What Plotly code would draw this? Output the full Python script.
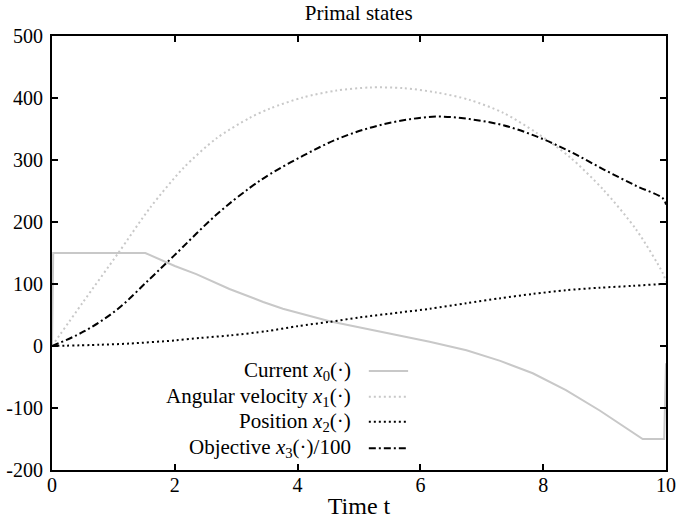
import plotly.graph_objects as go

# ---- data ----
t_current = [0, 0.02, 1.52, 1.75, 2.0, 2.35, 2.68, 2.89, 3.44, 3.76, 4.52, 5.01, 5.66, 6.15, 6.75, 7.3, 7.83, 8.37, 8.92, 9.46, 9.62, 9.97, 10.0]
current = [0, 150, 150, 140, 129, 116, 101, 92, 71, 60, 40, 30, 17, 7, -7, -24, -44, -71, -104, -139, -150, -150, -28]

t_vel = [0, 0.5, 1.08, 1.59, 2.14, 2.68, 3.22, 3.55, 4.09, 4.63, 5.18, 5.72, 6.26, 6.80, 7.35, 7.89, 8.43, 8.98, 9.52, 9.95, 10.0]
velocity = [0, 70, 150, 222, 287, 335, 368, 383, 401, 412, 417, 416, 409, 397, 376, 344, 305, 252, 187, 117, 103]

t_pos = [0, 0.78, 1.27, 2.0, 2.41, 2.9, 3.5, 4.0, 4.52, 5.0, 5.66, 6.15, 6.75, 7.3, 7.83, 8.37, 8.92, 9.46, 9.95, 10.0]
position = [0, 2, 4, 9, 13, 17, 24, 32, 39, 46, 54, 60, 69, 77, 84, 90, 94, 97, 100, 100]

t_obj = [0, 0.51, 1.05, 1.59, 1.98, 2.68, 3.22, 3.55, 4.09, 4.63, 5.18, 5.72, 6.26, 6.80, 7.35, 7.89, 8.43, 8.98, 9.52, 9.95, 10.0]
objective = [0, 23, 58, 108, 145, 212, 255, 277, 307, 333, 352, 364, 370, 366, 356, 338, 314, 285, 258, 238, 228]

y_ticks = [-200, -100, 0, 100, 200, 300, 400, 500]
y_ticktext = ["-200", "-100", "0", "100", "200", "300", "400", "500"]
x_ticks = [0, 2, 4, 6, 8, 10]

legend_labels = [
    "Current <i>x</i><sub>0</sub>(·)",
    "Angular velocity <i>x</i><sub>1</sub>(·)",
    "Position <i>x</i><sub>2</sub>(·)",
    "Objective <i>x</i><sub>3</sub>(·)/100",
]

GRAY = "rgb(200,200,200)"
DOT = "2px,3px"
DASHDOT = "7px,3px,2px,3px"
styles = [
    dict(color=GRAY, width=2, dash="solid"),
    dict(color=GRAY, width=2, dash=DOT),
    dict(color="black", width=2, dash=DOT),
    dict(color="black", width=2, dash=DASHDOT),
]

FONT = "Liberation Serif"

fig = go.Figure()
fig.add_trace(go.Scatter(x=t_current, y=current, mode="lines", line=styles[0], showlegend=False))
fig.add_trace(go.Scatter(x=t_vel, y=velocity, mode="lines", line=dict(**styles[1], shape="spline", smoothing=0.8), showlegend=False))
fig.add_trace(go.Scatter(x=t_pos, y=position, mode="lines", line=dict(**styles[2], shape="spline", smoothing=0.8), showlegend=False))
fig.add_trace(go.Scatter(x=t_obj, y=objective, mode="lines", line=dict(**styles[3], shape="spline", smoothing=1.0), showlegend=False))

# manual legend (text right-aligned, sample line on the right)
row_y = [0.228, 0.169, 0.111, 0.050]
for lbl, yy, st in zip(legend_labels, row_y, styles):
    fig.add_annotation(x=0.490, y=yy, xref="paper", yref="paper", text=lbl,
                       showarrow=False, xanchor="right", yanchor="middle",
                       font=dict(family=FONT, size=21, color="black"))
    fig.add_shape(type="line", xref="paper", yref="paper", x0=0.516, x1=0.580, y0=yy, y1=yy,
                  line=dict(color=st["color"], width=st["width"], dash=st["dash"]))

axis_common = dict(showgrid=False, zeroline=False, showline=True, linecolor="black", linewidth=2,
                   mirror="ticks", ticks="inside", ticklen=6, tickwidth=1.5, tickcolor="black",
                   automargin=False,
                   tickfont=dict(family=FONT, size=20, color="black"))

fig.update_xaxes(range=[0, 10], tickvals=x_ticks, ticklabelstandoff=-4,
                 title=dict(text="Time t", font=dict(family=FONT, size=24, color="black"), standoff=2),
                 **axis_common)
fig.update_yaxes(range=[-200, 500], tickvals=y_ticks, ticktext=y_ticktext, ticklabelstandoff=3, **axis_common)

fig.update_layout(
    width=678, height=521,
    margin=dict(l=52, r=12, t=36, b=51),
    paper_bgcolor="white", plot_bgcolor="white",
    title=dict(text="Primal states", x=0.529, xanchor="center", y=0.975, yanchor="middle",
               font=dict(family=FONT, size=21, color="black")),
    font=dict(family=FONT, color="black"),
)

fig.write_html("out.html", config={"displayModeBar": False},
               post_script="document.body.style.margin='0';document.body.style.padding='0';document.body.style.overflow='hidden';")
